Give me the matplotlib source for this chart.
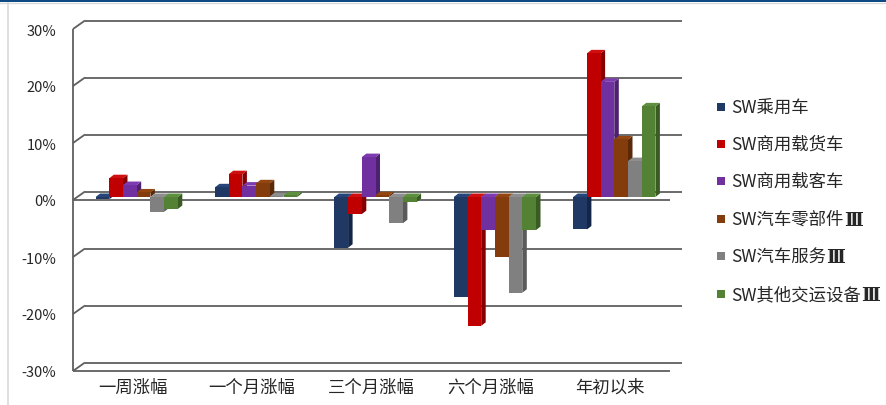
import matplotlib
matplotlib.use("Agg")
import matplotlib.pyplot as plt
from matplotlib.patches import Polygon, Rectangle
from matplotlib.lines import Line2D

plt.rcParams['font.family'] = ['Noto Sans CJK SC', 'DejaVu Sans']

categories = ['一周涨幅', '一个月涨幅', '三个月涨幅', '六个月涨幅', '年初以来']
series_names = ['SW乘用车', 'SW商用载货车', 'SW商用载客车',
                'SW汽车零部件Ⅲ', 'SW汽车服务Ⅲ', 'SW其他交运设备Ⅲ']
passenger = [-0.4, 1.7, -8.9, -17.5, -5.7]
truck = [3.3, 4.0, -3.0, -22.6, 25.2]
bus = [2.1, 2.0, 7.0, -5.8, 20.2]
parts = [0.8, 2.4, 0.3, -10.6, 10.1]
service = [-2.6, 0.1, -4.6, -16.8, 6.3]
other = [-2.1, 0.3, -0.9, -5.8, 15.9]
series_values = [passenger, truck, bus, parts, service, other]
y_ticks = [-30, -20, -10, 0, 10, 20, 30]
y_tick_labels = ['-30%', '-20%', '-10%', '0%', '10%', '20%', '30%']

front_colors = ['#1F3864', '#C00000', '#7030A0', '#843C0C', '#808080', '#548235']
side_colors = ['#14254A', '#850000', '#4E2170', '#5A2908', '#5A5A5A', '#3A5B24']
top_colors = ['#26457A', '#D01010', '#7E3AB0', '#93460F', '#8E8E8E', '#5E9040']
text_color = '#262626'

W, H, DPI = 886, 406, 100
fig = plt.figure(figsize=(W / DPI, H / DPI), dpi=DPI)
fig.patch.set_facecolor('white')

# axes frame (front plane), in pixels
left_px, right_px, top_px, bottom_px = 73, 670, 30, 372
ax = fig.add_axes([left_px / W, (H - bottom_px) / H,
                   (right_px - left_px) / W, (bottom_px - top_px) / H])
ax.set_xlim(0, len(categories))
ax.set_ylim(-30, 30)
ax.set_facecolor('none')
for s in ax.spines.values():
    s.set_visible(False)

ux = len(categories) / (right_px - left_px)   # data per pixel, x
uy = 60.0 / (bottom_px - top_px)              # data per pixel, y

def off(px, py):
    return px * ux, -py * uy

wall_dx, wall_dy = off(12, -8.5)
bar_fx, bar_fy = off(4, -3)
bar_dx, bar_dy = off(4.5, -3.5)

line_kw = dict(color='#5F5F5F', lw=1.3, zorder=0.5, clip_on=False,
               solid_capstyle='butt')
# back wall gridlines with left-edge connectors
for v in y_ticks:
    ax.plot([wall_dx, len(categories) + wall_dx], [v + wall_dy, v + wall_dy], **line_kw)
    ax.plot([0, wall_dx], [v, v + wall_dy], **line_kw)
# front axis lines
ax.plot([0, 0], [-30, 30], **line_kw)
ax.plot([0, len(categories)], [0, 0], **line_kw)
ax.plot([0, len(categories)], [-30, -30], **line_kw)

# 3D-style columns
bw = 13.7 / 119.4
n = len(series_values)
for i in range(len(categories)):
    for j in range(n):
        v = series_values[j][i]
        xl = i + 0.5 - n / 2 * bw + j * bw
        xr = xl + bw
        side = [(xr + bar_fx, bar_fy), (xr + bar_fx, v + bar_fy),
                (xr + bar_fx + bar_dx, v + bar_fy + bar_dy),
                (xr + bar_fx + bar_dx, bar_fy + bar_dy)]
        ax.add_patch(Polygon(side, closed=True, facecolor=side_colors[j],
                             edgecolor='none', clip_on=False, zorder=1))
        yt = max(v, 0)
        top = [(xl + bar_fx, yt + bar_fy), (xr + bar_fx, yt + bar_fy),
               (xr + bar_fx + bar_dx, yt + bar_fy + bar_dy),
               (xl + bar_fx + bar_dx, yt + bar_fy + bar_dy)]
        ax.add_patch(Polygon(top, closed=True, facecolor=top_colors[j],
                             edgecolor='none', clip_on=False, zorder=1))
        ax.bar(xl + bar_fx, v, width=bw, bottom=bar_fy, align='edge',
               color=front_colors[j], edgecolor='none', clip_on=False, zorder=1)

ax.set_yticks(y_ticks)
ax.set_yticklabels(y_tick_labels, fontsize=10.5, color=text_color)
ax.set_xticks([i + 0.5 for i in range(len(categories))])
ax.set_xticklabels(categories, fontsize=12.5, color=text_color)
ax.tick_params(axis='y', length=0, pad=12)
ax.tick_params(axis='x', length=0, pad=5)

# legend
renderer = fig.canvas.get_renderer()
leg_y = [108, 145, 182, 220, 257, 295]
for j, name in enumerate(series_names):
    yc = leg_y[j]
    fig.add_artist(Rectangle((717 / W, (H - yc - 4) / H), 8 / W, 8 / H,
                             transform=fig.transFigure, facecolor=front_colors[j],
                             edgecolor='none'))
    base, suffix = (name[:-1], name[-1]) if name.endswith('Ⅲ') else (name, '')
    t = fig.text(731 / W, (H - yc) / H, base, fontsize=12.5, color=text_color,
                 va='center', ha='left')
    if suffix:
        bb = t.get_window_extent(renderer)
        fig.text((bb.x1 + 0.5) / W, (H - yc - 1) / H, suffix, fontsize=13.5,
                 color=text_color, va='center', ha='left',
                 family='DejaVu Serif', weight='bold')

# page frame
fig.add_artist(Rectangle((0, (H - 3) / H), 1, 3 / H, transform=fig.transFigure,
                         facecolor='#0E4A84', edgecolor='none'))
fig.add_artist(Line2D([0, 1], [(H - 4) / H] * 2, transform=fig.transFigure,
                      color='#D9D9D9', lw=1))
fig.add_artist(Line2D([7.5 / W] * 2, [0, (H - 4) / H], transform=fig.transFigure,
                      color='#D9D9D9', lw=1.2))

fig.savefig('out.png', dpi=DPI)
